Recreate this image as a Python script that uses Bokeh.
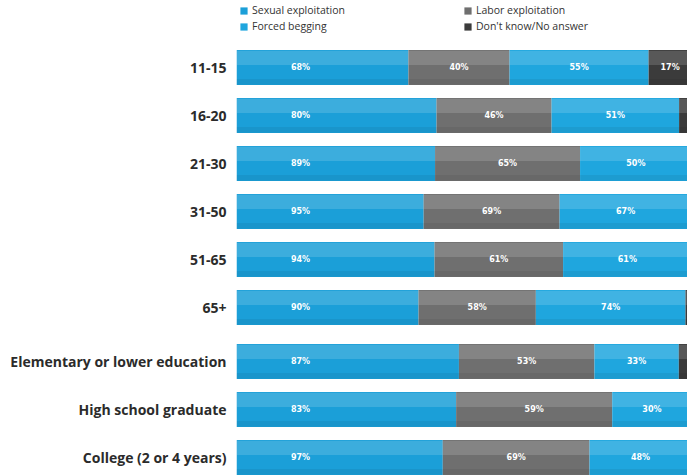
import numpy as np
import pandas as pd
from bokeh.plotting import figure
from bokeh.models import ColumnDataSource, Range1d, FixedTicker, Legend, LegendItem
from bokeh.core.properties import value
from bokeh.embed import file_html
from bokeh.resources import INLINE

categories = ["11-15", "16-20", "21-30", "31-50", "51-65", "65+",
              "Elementary or lower education", "High school graduate",
              "College (2 or 4 years)"]
groups = ["age"] * 6 + ["education"] * 3
sexual = [68, 80, 89, 95, 94, 90, 87, 83, 97]
labor = [40, 46, 65, 69, 61, 58, 53, 59, 69]
begging = [55, 51, 50, 67, 61, 74, 33, 30, 48]
dont_know = [17, 5, 0, 0, 0, 3, 5, 0, 0]
series_names = ["Sexual exploitation", "Labor exploitation",
                "Forced begging", "Don't know/No answer"]

colors = ["#1b9fd8", "#6f6f6f", "#1fa6de", "#3b3b3b"]

df = pd.DataFrame({"cat": categories, "grp": groups, "s": sexual, "l": labor,
                   "b": begging, "d": dont_know})
df["y"] = np.arange(len(df)) + np.where(df["grp"] == "education", 0.125, 0.0)
tot = df[["s", "l", "b", "d"]].sum(axis=1)

p = figure(width=687, height=476, output_backend="svg", toolbar_location=None,
           x_range=Range1d(0, 0.991), y_range=Range1d(8.521, -1.396),
           x_axis_location=None, min_border_left=236, min_border_right=0,
           min_border_top=0, min_border_bottom=0)
p.outline_line_color = None
p.grid.visible = False
p.background_fill_color = "white"

left = np.zeros(len(df))
renderers = []
for col, name, color in zip(["s", "l", "b", "d"], series_names, colors):
    frac = df[col] / tot
    right = left + frac
    src = ColumnDataSource(dict(y=df["y"], left=left, right=right,
                                mid=(left + right) / 2, val=df[col],
                                lab=[f"{v}%" for v in df[col]],
                                top=df["y"] - 0.2, bot=df["y"] + 0.3))
    r = p.hbar(y="y", left="left", right="right", height=0.73, source=src,
               fill_color=color, line_color=None)
    renderers.append(r)
    # glossy highlight on upper part, slight shade at bottom
    p.hbar(y="top", left="left", right="right", height=0.3, source=src,
           fill_color="white", fill_alpha=0.15, line_color=None)
    p.hbar(y="bot", left="left", right="right", height=0.12, source=src,
           fill_color="black", fill_alpha=0.06, line_color=None)
    if col == "s":
        p.text(x="left", y="y", text="lab", source=src, x_offset=64,
               text_font=value("DejaVu Sans"), text_font_style="bold",
               text_font_size="8px", text_color="white",
               text_align="center", text_baseline="middle")
    else:
        view = src.data
        keep = [i for i, v in enumerate(view["val"]) if v >= 10]
        sub = ColumnDataSource({k: [list(view[k])[i] for i in keep] for k in view})
        p.text(x="mid", y="y", text="lab", source=sub,
               text_font=value("DejaVu Sans"), text_font_style="bold",
               text_font_size="8px", text_color="white",
               text_align="center", text_baseline="middle")
    left = right

ax = p.yaxis[0]
ax.ticker = FixedTicker(ticks=list(df["y"]))
ax.major_label_overrides = {float(y): c for y, c in zip(df["y"], df["cat"])}
ax.axis_line_color = None
ax.major_tick_line_color = None
ax.minor_tick_line_color = None
ax.major_label_standoff = 4
ax.major_label_text_font = "Open Sans"
ax.major_label_text_font_style = "bold"
ax.major_label_text_font_size = "14px"
ax.major_label_text_color = "#2b2b2b"

def make_legend(label, rend, x, y):
    return Legend(items=[LegendItem(label=label, renderers=[rend])],
                  location=(x, y), orientation="vertical",
                  background_fill_alpha=0, border_line_alpha=0, padding=0,
                  spacing=0, margin=0, glyph_width=9, glyph_height=9,
                  label_height=10, label_text_font="Open Sans",
                  label_text_font_size="10.5px", label_text_color="#333333",
                  label_standoff=4)

p.add_layout(make_legend(series_names[0], renderers[0], 3, 459))
p.add_layout(make_legend(series_names[2], renderers[2], 3, 443))
p.add_layout(make_legend(series_names[1], renderers[1], 227, 459))
p.add_layout(make_legend(series_names[3], renderers[3], 227, 443))

open("out.html", "w").write(file_html(p, INLINE))
